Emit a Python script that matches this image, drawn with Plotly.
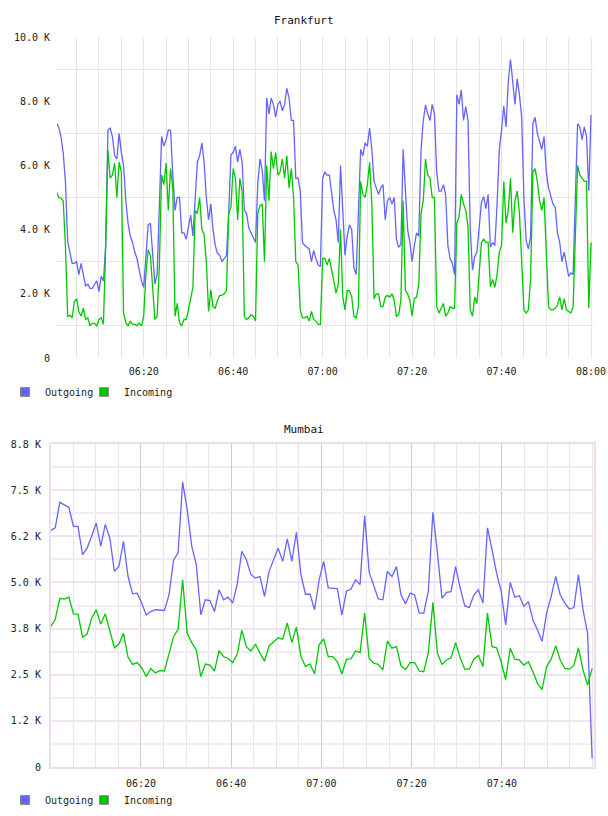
import pandas as pd
import plotly.graph_objects as go

# ---------------- data ----------------
fra_times = pd.date_range("2024-01-01 06:00:30", "2024-01-01 08:00:00", freq="30s")
fra_out_k = [
    7.31, 7.2, 6.9, 6.4, 5.5, 3.63, 3.3, 2.95, 2.95, 3.0,
    2.6, 2.95, 2.6, 2.25, 2.3, 2.17, 2.17, 2.3, 2.4, 2.07,
    2.55, 2.4, 3.5, 7.1, 7.16, 6.9, 6.3, 6.2, 7.0, 6.4,
    6.0, 4.9, 4.2, 3.8, 3.6, 3.3, 3.1, 2.74, 2.4, 2.2,
    3.37, 4.15, 4.2, 3.16, 2.3, 2.6, 4.7, 6.9, 6.6, 6.8,
    7.1, 7.1, 5.75, 4.6, 5.0, 5.0, 3.9, 3.9, 3.7, 4.1,
    4.45, 3.8, 5.0, 6.1, 6.3, 6.7, 6.1, 5.0, 4.3, 4.8,
    4.0, 3.5, 3.26, 3.2, 3.0, 3.1, 3.2, 4.5, 6.33, 6.4,
    6.6, 6.1, 6.5, 6.1, 4.6, 4.5, 4.05, 3.9, 3.75, 3.6,
    5.44, 6.2, 5.85, 4.9, 8.1, 7.6, 8.1, 7.9, 7.5, 7.9,
    8.0, 7.7, 7.9, 8.4, 8.1, 7.4, 7.4, 5.6, 5.6, 5.2,
    3.6, 3.5, 3.45, 3.4, 3.0, 3.35, 3.1, 2.9, 2.85, 5.6,
    5.8, 5.7, 5.7, 5.1, 4.6, 4.3, 3.6, 6.0, 4.4, 3.2,
    3.8, 4.15, 4.0, 2.8, 2.6, 4.8, 6.5, 6.3, 6.7, 6.6,
    7.16, 6.5, 5.5, 5.3, 5.1, 5.3, 5.4, 4.3, 4.9, 5.0,
    4.8, 5.0, 3.7, 3.45, 3.55, 6.5, 5.3, 4.0, 3.6, 3.0,
    3.5, 3.9, 3.8, 6.5, 7.4, 7.88, 7.6, 7.4, 7.9, 7.6,
    5.8, 5.2, 5.2, 5.4, 5.1, 3.5, 3.1, 2.95, 2.6, 8.2,
    7.9, 8.35, 7.4, 7.83, 7.4, 4.0, 2.74, 3.16, 3.3, 4.0,
    4.85, 5.03, 4.65, 5.1, 3.45, 3.6, 3.5, 4.8, 6.5, 7.1,
    7.85, 7.2, 8.6, 9.3, 8.5, 7.9, 8.7, 8.2, 7.5, 5.0,
    3.65, 3.4, 3.8, 7.3, 7.5, 7.0, 6.75, 6.5, 6.9, 5.8,
    5.3, 5.0, 4.8, 4.7, 3.9, 3.6, 3.0, 3.3, 2.9, 2.54,
    2.65, 2.6, 5.0, 7.3, 7.2, 6.8, 7.2, 6.9, 5.2, 7.57,
]
fra_in_k = [
    5.18, 5.0, 4.98, 4.9, 3.5, 1.3, 1.33, 1.25, 1.76, 1.85,
    1.45, 1.3, 1.55, 1.2, 1.25, 1.0, 1.08, 1.08, 1.0, 1.2,
    1.25, 1.05, 3.5, 6.48, 5.6, 5.7, 6.07, 5.0, 6.1, 5.8,
    1.4, 1.1, 1.0, 1.15, 1.05, 1.05, 1.0, 1.08, 1.0, 1.3,
    2.64, 3.37, 3.2, 2.3, 1.2, 1.3, 2.9, 5.7, 5.4, 6.07,
    4.6, 5.9, 5.3, 1.3, 1.7, 1.1, 1.0, 1.2, 1.2, 1.5,
    1.8, 2.2, 4.6, 4.5, 5.0, 4.0, 3.85, 3.0, 1.45, 2.12,
    1.6, 1.55, 1.8, 1.95, 1.95, 2.0, 2.1, 4.5, 4.7, 5.9,
    5.6, 4.3, 5.6, 5.18, 1.3, 1.2, 1.25, 1.35, 1.3, 1.15,
    4.5, 4.75, 4.8, 3.0, 6.0, 4.9, 6.43, 5.9, 6.4, 5.7,
    5.8, 6.2, 5.6, 6.3, 5.3, 5.9, 5.0, 3.0, 2.9, 1.5,
    1.25, 1.25, 1.3, 1.15, 1.45, 1.2, 1.15, 1.05, 1.05, 3.1,
    3.1, 2.9, 3.1, 2.8, 2.4, 2.02, 2.3, 4.0, 1.9, 1.5,
    2.1, 2.1, 1.9, 1.3, 1.25, 1.6, 5.5, 5.1, 5.0, 5.4,
    6.1, 4.8, 1.85, 2.0, 2.0, 1.6, 1.6, 1.9, 1.95, 1.9,
    2.0, 1.8, 1.3, 1.35, 1.8, 4.9, 2.1, 2.0, 1.8, 1.3,
    1.85, 1.9, 2.3, 4.5, 4.9, 6.2, 5.7, 5.6, 5.0, 5.0,
    1.6, 1.4, 1.55, 1.7, 1.3, 1.4, 1.6, 1.55, 1.55, 4.2,
    4.4, 5.1, 4.8, 4.6, 4.1, 1.5, 1.3, 1.9, 1.7, 2.6,
    3.6, 3.7, 3.6, 3.6, 2.22, 2.45, 2.2, 2.6, 3.3, 3.5,
    5.5, 4.2, 4.6, 5.6, 3.9, 4.9, 5.2, 4.5, 3.0, 1.5,
    1.4, 1.5, 2.5, 5.8, 5.9, 5.5, 4.9, 4.6, 5.0, 3.0,
    1.6, 1.5, 1.5, 1.55, 1.65, 1.9, 1.5, 1.85, 1.5, 1.45,
    1.4, 1.6, 4.0, 6.0, 5.7, 5.6, 5.5, 5.5, 1.55, 3.6,
]

mum_times = pd.date_range("2024-01-01 06:00:00", "2024-01-01 08:00:00", periods=120)
mum_out_k = [
    6.41, 6.48, 7.17, 7.10, 7.03, 6.52, 6.52, 5.75, 5.93, 6.25,
    6.61, 5.98, 6.57, 6.20, 5.30, 5.43, 6.11, 5.16, 4.69, 4.71,
    4.44, 4.12, 4.21, 4.26, 4.25, 4.24, 4.66, 5.60, 5.80, 7.72,
    6.97, 5.98, 5.48, 4.12, 4.53, 4.51, 4.21, 4.80, 4.53, 4.60,
    4.44, 4.96, 5.84, 5.62, 5.21, 5.12, 5.16, 4.62, 5.30, 5.62,
    5.93, 5.57, 6.18, 5.57, 6.36, 5.21, 4.68, 4.68, 4.26, 5.07,
    5.57, 4.85, 4.84, 4.83, 4.12, 4.76, 4.82, 5.07, 4.94, 6.81,
    5.28, 4.89, 4.55, 4.53, 5.30, 5.16, 5.43, 4.66, 4.42, 4.71,
    4.66, 4.17, 4.17, 4.76, 6.90, 5.80, 4.57, 4.73, 4.75, 5.43,
    4.85, 4.37, 4.32, 4.66, 4.80, 4.44, 6.48, 5.89, 5.25, 4.76,
    3.85, 5.00, 4.60, 4.64, 4.35, 4.48, 3.98, 3.71, 3.40, 4.17,
    4.62, 5.16, 4.66, 4.44, 4.28, 4.32, 5.21, 4.26, 3.62, 0.23,
]
mum_in_k = [
    3.80, 4.00, 4.57, 4.55, 4.60, 4.15, 4.14, 3.51, 3.60, 4.03,
    4.26, 3.87, 4.15, 3.67, 3.23, 3.33, 3.62, 2.97, 2.78, 2.83,
    2.69, 2.45, 2.67, 2.55, 2.61, 2.60, 3.08, 3.53, 3.73, 5.07,
    3.62, 3.37, 3.17, 2.45, 2.79, 2.76, 2.60, 3.15, 2.99, 2.94,
    2.83, 3.06, 3.71, 3.26, 3.14, 3.33, 3.08, 2.87, 3.28, 3.40,
    3.50, 3.46, 3.90, 3.37, 3.79, 2.99, 2.72, 2.79, 2.52, 3.31,
    3.47, 2.99, 2.99, 2.85, 2.52, 2.92, 2.93, 3.15, 3.10, 4.17,
    2.94, 2.81, 2.78, 2.63, 3.41, 3.22, 3.26, 2.74, 2.64, 2.83,
    2.83, 2.60, 2.58, 3.10, 4.46, 3.08, 2.78, 2.90, 2.96, 3.37,
    2.96, 2.65, 2.65, 2.92, 3.02, 2.72, 4.17, 3.26, 3.23, 2.85,
    2.37, 3.22, 2.92, 2.90, 2.76, 2.85, 2.58, 2.26, 2.10, 2.72,
    2.92, 3.28, 2.90, 2.67, 2.65, 2.76, 3.23, 2.63, 2.22, 2.67,
]

fra_ytick_vals = [0, 2000, 4000, 6000, 8000, 10000]
fra_ytick_text = ["0", "2.0 K", "4.0 K", "6.0 K", "8.0 K", "10.0 K"]
fra_ygrid_vals = [1000, 3000, 5000, 7000, 9000]
mum_ytick_vals = [0, 1250, 2500, 3750, 5000, 6250, 7500, 8750]
mum_ytick_text = ["0", "1.2 K", "2.5 K", "3.8 K", "5.0 K", "6.2 K", "7.5 K", "8.8 K"]
mum_ygrid_vals = [625, 1875, 3125, 4375, 5625, 6875, 8125]
mum_xtick_vals = ["2024-01-01 06:20", "2024-01-01 06:40", "2024-01-01 07:00",
                  "2024-01-01 07:20", "2024-01-01 07:40"]
mum_xtick_text = ["06:20", "06:40", "07:00", "07:20", "07:40"]

series_names = ["Outgoing", "Incoming"]
series_colors = ["#6464ff", "#00c800"]

# ---------------- figure ----------------
W, H = 608, 816
MONO = "DejaVu Sans Mono"
fig = go.Figure()

def k(vals):
    return [v * 1000 for v in vals]

for name, col, vals in zip(series_names, series_colors, [fra_out_k, fra_in_k]):
    fig.add_trace(go.Scatter(x=fra_times, y=k(vals), mode="lines", name=name,
                             line=dict(color=col, width=1.3), showlegend=False,
                             xaxis="x", yaxis="y"))
for name, col, vals in zip(series_names, series_colors, [mum_out_k, mum_in_k]):
    fig.add_trace(go.Scatter(x=mum_times, y=k(vals), mode="lines", name=name,
                             line=dict(color=col, width=1.3), showlegend=False,
                             xaxis="x2", yaxis="y2"))

# legend swatches: one legend per entry so each can be placed exactly
legend_ids = [["legend", "legend2"], ["legend3", "legend4"]]
for row, (xa, ya) in enumerate([("x", "y"), ("x2", "y2")]):
    for j, (name, col) in enumerate(zip(series_names, series_colors)):
        fig.add_trace(go.Scatter(x=[None], y=[None], mode="markers", name=name,
                                 marker=dict(symbol="square", size=9, color=col,
                                             line=dict(color="#8a8a8a", width=1)),
                                 legend=legend_ids[row][j], xaxis=xa, yaxis=ya))

def px_x(p):
    return p / W

def px_y(p):
    return 1 - p / H

tickfont = dict(family=MONO, size=10, color="#222222")
fgrid = "#e6e6e6"
legfont = dict(family=MONO, size=10, color="#222222")

def leg(xp, yp):
    return dict(orientation="h", x=px_x(xp), y=px_y(yp), xanchor="left", yanchor="middle",
                font=legfont, bgcolor="rgba(0,0,0,0)", borderwidth=0)

fig.update_layout(
    template="none",
    width=W, height=H, autosize=False,
    margin=dict(l=0, r=0, t=0, b=0, pad=0, autoexpand=False),
    paper_bgcolor="white", plot_bgcolor="white",
    font=dict(family=MONO, size=10, color="#222222"),
    xaxis=dict(
        type="date", domain=[px_x(57), px_x(594)],
        range=["2024-01-01 06:00:37", "2024-01-01 08:00:40"],
        tick0="2024-01-01 06:00", dtick=20 * 60 * 1000, tickformat="%H:%M",
        showgrid=True, gridcolor=fgrid, gridwidth=1,
        minor=dict(dtick=5 * 60 * 1000, tick0="2024-01-01 06:00", showgrid=True,
                   gridcolor=fgrid, gridwidth=1),
        zeroline=False, showline=False, ticks="", tickfont=tickfont,
        ticklabelstandoff=6, anchor="y", automargin=False,
    ),
    yaxis=dict(
        domain=[px_y(358), px_y(37)], range=[0, 10000],
        tickmode="array", tickvals=fra_ytick_vals, ticktext=fra_ytick_text,
        showgrid=False,
        minor=dict(tickmode="array", tickvals=fra_ygrid_vals, showgrid=True,
                   gridcolor=fgrid, gridwidth=1),
        zeroline=False, showline=False, ticks="", tickfont=tickfont,
        ticklabelstandoff=6, anchor="x", automargin=False,
    ),
    xaxis2=dict(
        type="date", domain=[px_x(50.7), px_x(594)],
        range=["2024-01-01 06:00:00", "2024-01-01 08:00:25"],
        tickmode="array", tickvals=mum_xtick_vals, ticktext=mum_xtick_text,
        showgrid=True, gridcolor="#dcc3dc", gridwidth=1,
        minor=dict(dtick=5 * 60 * 1000, tick0="2024-01-01 06:00", showgrid=True,
                   gridcolor="#ebe2eb", gridwidth=1),
        zeroline=False, showline=True, mirror=True, linecolor="#eedcee", linewidth=1.5,
        ticks="", tickfont=tickfont, ticklabelstandoff=6, anchor="y2", automargin=False,
    ),
    yaxis2=dict(
        domain=[px_y(767), px_y(444)], range=[0, 8750],
        tickmode="array", tickvals=mum_ytick_vals, ticktext=mum_ytick_text,
        showgrid=True, gridcolor="#f0e2f0", gridwidth=2,
        minor=dict(tickmode="array", tickvals=mum_ygrid_vals, showgrid=True,
                   gridcolor="#f2ecf2", gridwidth=2),
        zeroline=False, showline=True, mirror=True, linecolor="#eedcee", linewidth=1.5,
        ticks="", tickfont=tickfont, ticklabelstandoff=6, anchor="x2", automargin=False,
    ),
    legend=leg(5, 392),
    legend2=leg(84, 392),
    legend3=leg(5, 800),
    legend4=leg(84, 800),
    annotations=[
        dict(text="Frankfurt", x=0.5, y=px_y(20.5), xref="paper", yref="paper",
             xanchor="center", yanchor="middle",
             showarrow=False, font=dict(family=MONO, size=11, color="#111111")),
        dict(text="Mumbai", x=0.5, y=px_y(429), xref="paper", yref="paper",
             xanchor="center", yanchor="middle",
             showarrow=False, font=dict(family=MONO, size=11, color="#111111")),
    ],
)

assert len(fra_out_k) == len(fra_times) == len(fra_in_k)
assert len(mum_out_k) == len(mum_times) == len(mum_in_k)

fig.write_html(
    "out.html",
    post_script="document.documentElement.style.margin='0';"
                "document.body.style.margin='0';document.body.style.padding='0';"
                "document.body.style.overflow='hidden';",
)
